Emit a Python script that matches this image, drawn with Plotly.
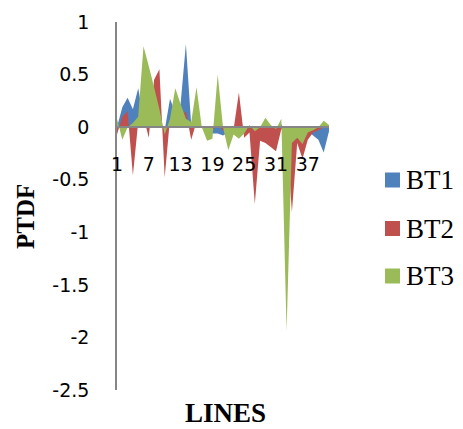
import plotly.graph_objects as go

# Transmission line index
lines = list(range(1, 42))

# PTDF per line for each transaction
bt1 = [0.0, 0.19, 0.28, 0.17, 0.37, 0.08, 0.1, 0.05, 0.02, -0.03,
       0.27, 0.14, 0.22, 0.79, 0.02, 0.1, 0.0, -0.02, -0.06, -0.06,
       -0.08, -0.05, -0.03, 0.02, -0.03, 0.01, -0.05, -0.03, 0.02, -0.05,
       -0.08, 0.03, -0.1, -0.1, -0.05, -0.08, -0.04, -0.08, -0.12, -0.24,
       -0.04]
bt2 = [-0.07, 0.1, 0.15, -0.46, 0.05, 0.1, -0.1, 0.45, 0.55, -0.48,
       0.08, 0.05, 0.1, 0.15, -0.12, 0.05, 0.0, -0.05, -0.03, 0.02,
       -0.03, -0.08, -0.02, 0.33, -0.1, -0.05, -0.73, -0.13, -0.15, -0.19,
       -0.23, -0.02, -0.05, -0.81, -0.15, -0.3, -0.12, -0.05, -0.03, 0.0,
       0.0]
bt3 = [0.08, -0.12, 0.0, 0.04, 0.1, 0.77, 0.58, 0.38, 0.17, -0.07,
       0.08, 0.37, 0.22, 0.08, 0.05, 0.38, 0.0, -0.13, -0.11, 0.5,
       0.0, -0.22, -0.07, -0.11, -0.06, 0.02, -0.04, 0.0, 0.09, 0.02,
       -0.02, 0.08, -1.94, -0.15, -0.1, -0.16, -0.05, -0.03, 0.0, 0.06,
       0.02]

series_names = ["BT1", "BT2", "BT3"]
series_colors = ["#4F81BD", "#C0504D", "#9BBB59"]

x_tickvals = [1, 7, 13, 19, 25, 31, 37]
y_tickvals = [1, 0.5, 0, -0.5, -1, -1.5, -2, -2.5]
y_ticktext = ["1", "0.5", "0", "-0.5", "-1", "-1.5", "-2", "-2.5"]

Y_MIN, Y_MAX = -2.5, 1.0
AXIS_GREY = "#868686"

fig = go.Figure()
for name, vals, col in zip(series_names, [bt1, bt2, bt3], series_colors):
    fig.add_trace(go.Scatter(
        x=lines, y=vals, name=name, mode="none",
        fill="tozeroy", fillcolor=col, showlegend=False,
    ))

# geometry of the plotting area in pixels
W, H = 463, 429
ML, MR, MT, MB = 117, 134, 22, 39
PW, PH = W - ML - MR, H - MT - MB


def px(xp):
    return (xp - ML) / PW


def py(yp):
    return (H - MB - yp) / PH


fig.update_layout(
    width=W, height=H,
    margin=dict(l=ML, r=MR, t=MT, b=MB),
    paper_bgcolor="white", plot_bgcolor="white",
    xaxis=dict(
        range=[1, 41], tickvals=x_tickvals, ticks="",
        showline=True, linecolor=AXIS_GREY, linewidth=1.5,
        showgrid=False, zeroline=False, ticklabelstandoff=20,
        anchor="free", position=(0 - Y_MIN) / (Y_MAX - Y_MIN),
        tickfont=dict(family="DejaVu Sans", size=19, color="black"),
    ),
    yaxis=dict(
        range=[Y_MIN, Y_MAX], tickvals=y_tickvals, ticktext=y_ticktext,
        ticks="", showline=True, linecolor=AXIS_GREY, linewidth=1.5,
        showgrid=False, zeroline=False, ticklabelstandoff=22,
        tickfont=dict(family="DejaVu Sans", size=19, color="black"),
    ),
)

# axis titles
fig.add_annotation(x=px(25), y=py(217), xref="paper", yref="paper",
                   text="<b>PTDF</b>", textangle=-90, showarrow=False,
                   xanchor="center", yanchor="middle",
                   font=dict(family="Liberation Serif", size=25, color="black"))
fig.add_annotation(x=px(225), y=py(413), xref="paper", yref="paper",
                   text="<b>LINES</b>", showarrow=False,
                   xanchor="center", yanchor="middle",
                   font=dict(family="Liberation Serif", size=27, color="black"))

# legend: colour squares with series names
for name, col, yc in zip(series_names, series_colors, [180, 228.5, 276]):
    fig.add_shape(type="rect", xref="paper", yref="paper",
                  x0=px(385), x1=px(400), y0=py(yc + 7.5), y1=py(yc - 7.5),
                  fillcolor=col, line=dict(width=0))
    fig.add_annotation(x=px(404), y=py(yc), xref="paper", yref="paper",
                       text=name, showarrow=False, xanchor="left", yanchor="middle",
                       font=dict(family="Liberation Serif", size=27, color="black"))

fig.write_html("out.html")
